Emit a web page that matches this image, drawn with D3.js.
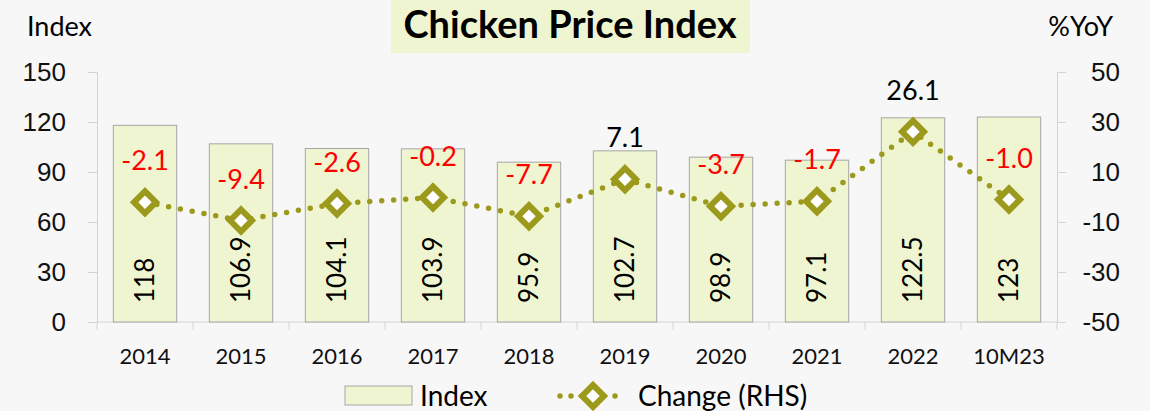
<!DOCTYPE html>
<html>
<head>
<meta charset="utf-8">
<script src="https://cdn.jsdelivr.net/npm/d3@7"></script>
<style>
  body { margin: 0; background: #f7f7f7; }
  svg { font-family: Lato, "Open Sans", sans-serif; }
  .axis path, .axis line { stroke: #d4d4d4; }
  .axis text { fill: #111; }
</style>
</head>
<body>
<div id="chart"></div>
<script>
// chart data
const years = ["2014", "2015", "2016", "2017", "2018", "2019", "2020", "2021", "2022", "10M23"];
const indexValues = [118, 106.9, 104.1, 103.9, 95.9, 102.7, 98.9, 97.1, 122.5, 123];
const changeValues = [-2.1, -9.4, -2.6, -0.2, -7.7, 7.1, -3.7, -1.7, 26.1, -1.0];
const leftTicks = [0, 30, 60, 90, 120, 150];
const rightTicks = [-50, -30, -10, 10, 30, 50];

const W = 1150, H = 411;
const margin = { top: 72, left: 97, bottom: 89, right: 93 };
const w = W - margin.left - margin.right;
const h = H - margin.top - margin.bottom;
const olive = "#9c9a1c";

const svg = d3.select("#chart").append("svg")
    .attr("width", W)
    .attr("height", H);

svg.append("rect").attr("width", W).attr("height", H).attr("fill", "#f7f7f7");

// title box
svg.append("rect")
    .attr("x", 391).attr("y", 0)
    .attr("width", 359).attr("height", 53)
    .attr("fill", "#eef5d0");
svg.append("text")
    .attr("x", 570).attr("y", 38)
    .attr("text-anchor", "middle")
    .attr("font-size", 38)
    .attr("font-weight", "bold")
    .text("Chicken Price Index");

svg.append("text").attr("x", 27).attr("y", 36).attr("font-size", 27).text("Index");
svg.append("text").attr("x", 1113).attr("y", 36).attr("font-size", 27)
    .attr("text-anchor", "end").text("%YoY");

const g = svg.append("g").attr("transform", "translate(" + margin.left + "," + margin.top + ")");

const x = d3.scaleBand().domain(years).range([0, w]).paddingInner(0.34).paddingOuter(0.17);
const xb = d3.scaleBand().domain(years).range([0, w]);
const yL = d3.scaleLinear().domain([0, 150]).range([h, 0]);
const yR = d3.scaleLinear().domain([-50, 50]).range([h, 0]);

// axes
const axL = g.append("g").attr("class", "axis")
    .call(d3.axisLeft(yL).tickValues(leftTicks).tickSize(9).tickPadding(22).tickSizeOuter(9));
axL.selectAll("text").attr("font-size", 26);

const axR = g.append("g").attr("class", "axis")
    .attr("transform", "translate(" + w + ",0)")
    .call(d3.axisRight(yR).tickValues(rightTicks).tickSize(9).tickSizeOuter(9).tickPadding(0)
        .tickFormat(d => String(d)));
axR.selectAll("text").attr("font-size", 26).attr("text-anchor", "end").attr("x", 63);

// x axis with ticks at category boundaries
const axB = g.append("g").attr("class", "axis")
    .attr("transform", "translate(0," + h + ")");
axB.append("line").attr("x1", 0).attr("x2", w).attr("stroke", "#d4d4d4");
axB.selectAll(".bt").data(d3.range(years.length + 1)).enter().append("line")
    .attr("x1", i => i * xb.step()).attr("x2", i => i * xb.step())
    .attr("y1", 0).attr("y2", 8).attr("stroke", "#d4d4d4");
axB.selectAll(".cl").data(years).enter().append("text")
    .attr("x", d => xb(d) + xb.bandwidth() / 2)
    .attr("y", 42)
    .attr("text-anchor", "middle")
    .attr("font-size", 22)
    .attr("fill", "#111")
    .text(d => d);

// bars
g.selectAll(".bar").data(indexValues).enter().append("rect")
    .attr("x", (d, i) => x(years[i]))
    .attr("y", d => yL(d))
    .attr("width", x.bandwidth())
    .attr("height", d => h - yL(d))
    .attr("fill", "#eff5d0")
    .attr("stroke", "#a6a6a6")
    .attr("stroke-width", 1);

// bar labels, rotated
g.selectAll(".blab").data(indexValues).enter().append("text")
    .attr("transform", (d, i) => "translate(" + (xb(years[i]) + xb.bandwidth() / 2 + 9) + "," + (h - 19) + ") rotate(-90)")
    .attr("font-size", 26)
    .attr("fill", "#000")
    .text(d => d);

// change line
const line = d3.line()
    .x((d, i) => xb(years[i]) + xb.bandwidth() / 2)
    .y(d => yR(d));
g.append("path")
    .datum(changeValues)
    .attr("d", line)
    .attr("fill", "none")
    .attr("stroke", olive)
    .attr("stroke-width", 5.5)
    .attr("stroke-linecap", "round")
    .attr("stroke-dasharray", "0 12");

const diamond = d3.symbol().type(d3.symbolSquare).size(240);
g.selectAll(".mk").data(changeValues).enter().append("path")
    .attr("d", diamond)
    .attr("transform", (d, i) => "translate(" + (xb(years[i]) + xb.bandwidth() / 2) + "," + yR(d) + ") rotate(45)")
    .attr("fill", "#fff")
    .attr("stroke", olive)
    .attr("stroke-width", 6);

g.selectAll(".clab").data(changeValues).enter().append("text")
    .attr("x", (d, i) => xb(years[i]) + xb.bandwidth() / 2)
    .attr("y", d => yR(d) - 32)
    .attr("text-anchor", "middle")
    .attr("font-size", 27)
    .attr("fill", d => d < 0 ? "#ff0000" : "#000")
    .text(d => d.toFixed(1));

// legend
const lg = svg.append("g");
lg.append("rect").attr("x", 345).attr("y", 386).attr("width", 67).attr("height", 19)
    .attr("fill", "#eff5d0").attr("stroke", "#a6a6a6");
lg.append("text").attr("x", 420).attr("y", 406).attr("font-size", 28).text("Index");
lg.append("line").attr("x1", 560).attr("x2", 626).attr("y1", 396).attr("y2", 396)
    .attr("stroke", olive).attr("stroke-width", 5.5).attr("stroke-linecap", "round")
    .attr("stroke-dasharray", "0 11");
lg.append("path").attr("d", diamond)
    .attr("transform", "translate(593,396) rotate(45)")
    .attr("fill", "#fff").attr("stroke", olive).attr("stroke-width", 6);
lg.append("text").attr("x", 638).attr("y", 406).attr("font-size", 28).text("Change (RHS)");
</script>
</body>
</html>
